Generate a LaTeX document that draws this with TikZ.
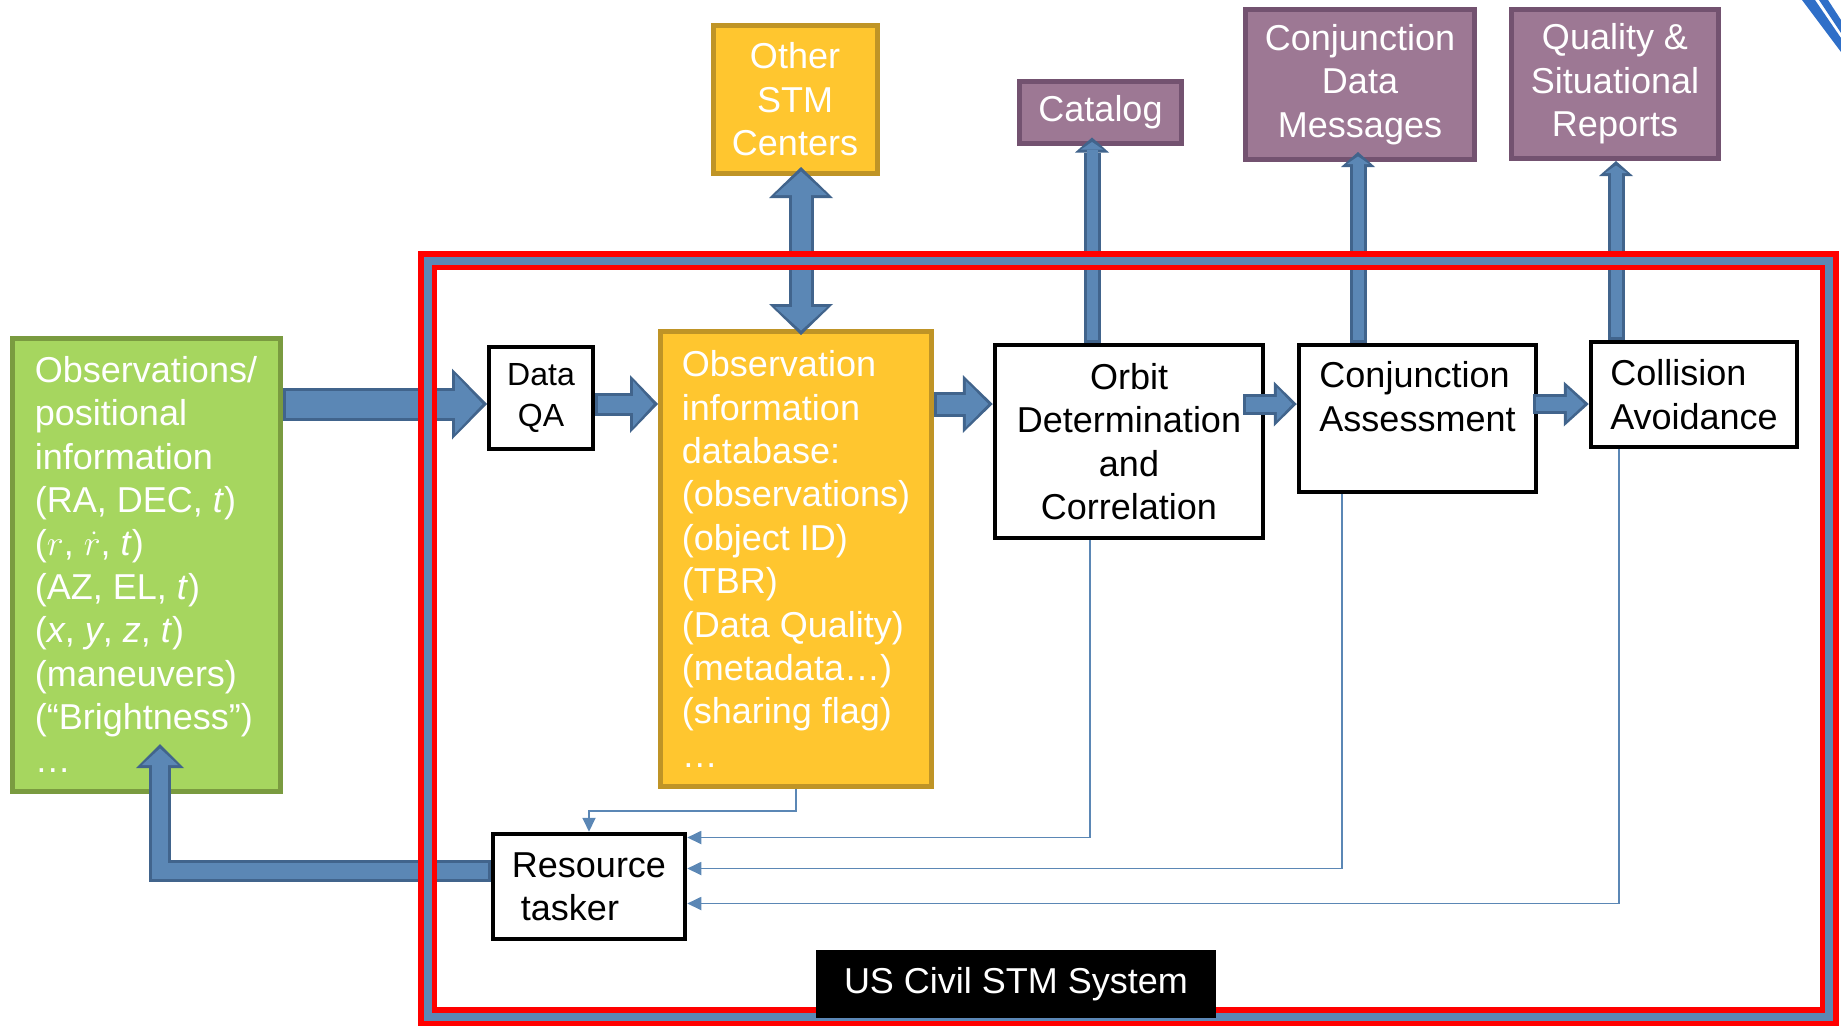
\documentclass[tikz,border=0pt]{standalone}
\usepackage{fix-cm}
\usepackage{fontspec}
\setmainfont{Liberation Sans}
\usepackage{xcolor}
\usetikzlibrary{arrows.meta,calc}
\definecolor{obsgreen}{HTML}{A6D65F}
\definecolor{obsgreenline}{HTML}{7A9B40}
\definecolor{dbyellow}{HTML}{FFC62F}
\definecolor{dbyellowline}{HTML}{BF9426}
\definecolor{prodpurple}{HTML}{9D7894}
\definecolor{prodpurpleline}{HTML}{735270}
\definecolor{flowblue}{HTML}{5B87B5}
\definecolor{flowdark}{HTML}{41648C}
\definecolor{logoblue}{HTML}{2F6FC8}
\newcommand{\boxfont}{\fontsize{36pt}{43.4pt}\selectfont}
\newcommand{\qafont}{\fontsize{32pt}{41pt}\selectfont}

\begin{document}
\begin{tikzpicture}[
  x=1pt, y=-1pt,
  box/.style={draw=black, line width=4.5pt, inner sep=0pt, font=\boxfont},
  inputbox/.style={draw=obsgreenline, fill=obsgreen, line width=5pt, inner sep=0pt,
    text=white, align=left, font=\boxfont},
  dbbox/.style={draw=dbyellowline, fill=dbyellow, line width=5pt, inner sep=0pt,
    text=white, font=\boxfont},
  outbox/.style={draw=prodpurpleline, fill=prodpurple, line width=5pt, inner sep=0pt,
    text=white, align=center, font=\boxfont},
  flow/.style n args={3}{draw=flowblue, line width=#1-6pt, line join=miter,
    shorten <=3pt, shorten >=4.5pt,
    -{Triangle[length=#3-7.5pt, width=#2-12pt, line width=0pt]},
    preaction={draw=flowdark, line width=#1, shorten <=0pt, shorten >=0pt,
      -{Triangle[length=#3, width=#2, line width=0pt]}}},
  flowboth/.style n args={3}{draw=flowblue, line width=#1-6pt,
    shorten <=4.5pt, shorten >=4.5pt,
    {Triangle[length=#3-7.5pt, width=#2-12pt, line width=0pt]}-{Triangle[length=#3-7.5pt, width=#2-12pt, line width=0pt]},
    preaction={draw=flowdark, line width=#1, shorten <=0pt, shorten >=0pt,
      {Triangle[length=#3, width=#2, line width=0pt]}-{Triangle[length=#3, width=#2, line width=0pt]}}},
  tasking/.style={draw=flowblue, line width=1.8pt, -{Triangle[length=14pt, width=13pt]}},
  sysframe/.style={draw=red, line width=5.5pt, double=flowblue, double distance=8pt},
  sysname/.style={fill=black, text=white, inner sep=0pt, font=\boxfont}
]
\useasboundingbox (0,0) rectangle (1841,1026);

% inputs and the processing chain
\node[inputbox, minimum width=268pt, minimum height=453pt] (obs) at (146,564.5)
  {Observations/\\positional\\information\\(RA, DEC, \textit{t})\\(\smash{$r$}, \smash{$\dot{r}$}, \textit{t})\\
   (AZ, EL, \textit{t})\\(\textit{x}, \textit{y}, \textit{z}, \textit{t})\\(maneuvers)\\(“Brightness”)\\…};
\node[box, line width=4pt, font=\qafont, align=center, minimum width=104pt, minimum height=102pt]
  (qa) at (541,398) {Data\\QA};
\node[dbbox, align=left, minimum width=271pt, minimum height=455pt] (obsdb) at (796,559)
  {Observation\\information\\database:\\(observations)\\(object ID)\\(TBR)\\
   (Data Quality)\\(metadata…)\\(sharing flag)\\…};
\node[box, align=center, minimum width=268pt, minimum height=193pt] (orbit) at (1129,441.5)
  {Orbit\\Determination\\and\\Correlation};
\node[box, align=left, minimum width=237pt, minimum height=147pt] (conj) at (1417.5,418.5)
  {Conjunction\\Assessment\rule[-44pt]{0pt}{0pt}};
\node[box, align=left, minimum width=206pt, minimum height=105pt] (collision) at (1694,394.5)
  {Collision\\Avoidance};
\node[box, align=left, minimum width=192pt, minimum height=105pt] (tasker) at (589,886.5)
  {Resource\\\hspace*{9pt}tasker};

% outside centers and products
\node[dbbox, align=center, minimum width=164pt, minimum height=148pt] (others) at (795,99.5)
  {Other\\STM\\Centers};
\node[outbox, minimum width=162pt, minimum height=62pt] (catalog) at (1100.5,112) {Catalog};
\node[outbox, minimum width=229pt, minimum height=150pt] (cdm) at (1360,84.5)
  {Conjunction\\Data\\Messages};
\node[outbox, minimum width=207pt, minimum height=149pt] (reports) at (1615,84)
  {Quality \&\\Situational\\Reports};

\coordinate (row) at (0,404);
\coordinate (fbtip) at (160,744);

% main flow
\draw[flow={33pt}{71pt}{35pt}] (obs.east |- row) -- (qa.west |- row);
\draw[flow={23pt}{58pt}{28pt}] (qa.east |- row) -- (obsdb.west |- row);
\draw[flow={25pt}{58pt}{30pt}] (obsdb.east |- row) -- (orbit.west |- row);
\draw[flow={21pt}{45pt}{23pt}] ($(orbit.east |- row)+(-22,0)$) -- (conj.west |- row);
\draw[flow={20pt}{45pt}{25pt}] ($(conj.east |- row)+(-5,0)$) -- (collision.west |- row);

% exchanges and products
\draw[flowboth={25pt}{64pt}{31pt}] ([xshift=6pt,yshift=9pt]others.south) -- ([xshift=5pt,yshift=-6pt]obsdb.north);
\draw[flow={17pt}{34pt}{15pt}] ([xshift=-37pt]orbit.north) -- ([xshift=-8.5pt,yshift=8pt]catalog.south);
\draw[flow={17pt}{34pt}{15pt}] ([xshift=-59.5pt]conj.north) -- ([xshift=-2pt,yshift=10pt]cdm.south);
\draw[flow={17pt}{34pt}{15pt}] ([xshift=-78pt]collision.north) -- ([xshift=1pt]reports.south);

% tasking back to the sensors
\draw[flow={22pt}{48pt}{24pt}] ([yshift=16pt]tasker.west) -| (fbtip);
\draw[tasking] (obsdb.south) -- ++(0,22) -| (tasker.north);
\draw[tasking] ([xshift=-39pt]orbit.south) |- ([yshift=49pt]tasker.east);
\draw[tasking] ([xshift=-75.5pt]conj.south) |- ([yshift=18pt]tasker.east);
\draw[tasking] ([xshift=-75pt]collision.south) |- ([yshift=-17pt]tasker.east);

% system boundary
\draw[sysframe] (427.5,260.5) rectangle (1829,1016.5);
\node[sysname, minimum width=400pt, minimum height=68pt] (system) at (1016,984) {US Civil STM System};

% corner of the slide logo
\fill[logoblue] (1802,0) -- (1815,0) -- (1841,38) -- (1841,52) -- cycle;
\fill[logoblue] (1819,0) -- (1828,0) -- (1841,20) -- (1841,33) -- cycle;
\end{tikzpicture}
\end{document}
